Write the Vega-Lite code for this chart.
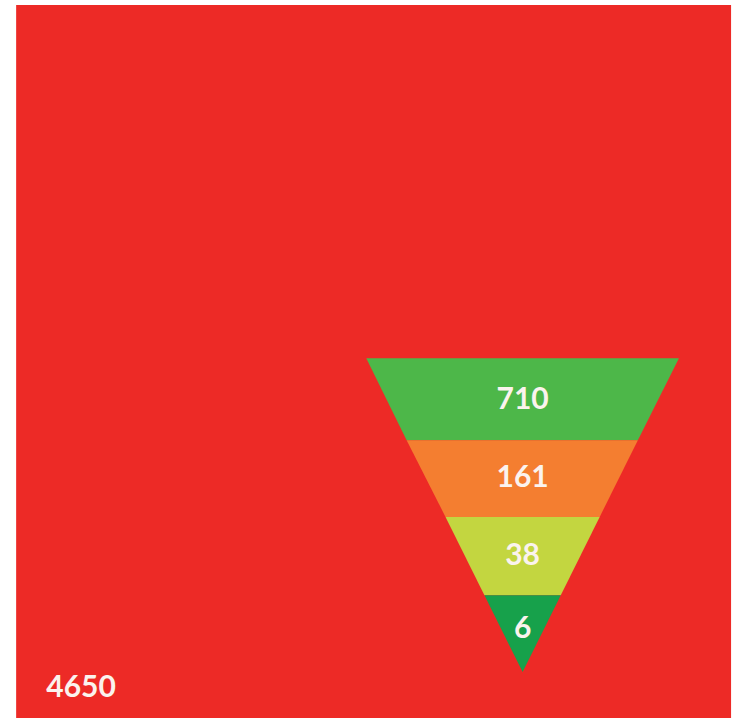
{
  "$schema": "https://vega.github.io/schema/vega-lite/v6.json",
  "width": 734,
  "height": 718,
  "padding": 0,
  "autosize": {"type": "none"},
  "background": "white",
  "config": {"view": {"stroke": null}},
  "layer": [
    {
      "data": {"values": [{"x0": 2.2, "x1": 99.6, "y0": 0.7, "y1": 100}]},
      "mark": {"type": "rect", "color": "#ed2a26"},
      "encoding": {
        "x": {"field": "x0", "type": "quantitative", "scale": {"domain": [0, 100], "nice": false, "zero": false}, "axis": null},
        "x2": {"field": "x1"},
        "y": {"field": "y0", "type": "quantitative", "scale": {"domain": [0, 100], "nice": false, "zero": false, "reverse": true}, "axis": null},
        "y2": {"field": "y1"}
      }
    },
    {
      "data": {"values": [
        {"band": "A", "y": 49.9, "xl": 49.9, "xr": 92.5},
        {"band": "A", "y": 61.3, "xl": 55.4, "xr": 86.9},
        {"band": "B", "y": 61.3, "xl": 55.4, "xr": 86.9},
        {"band": "B", "y": 72.0, "xl": 60.7, "xr": 81.7},
        {"band": "C", "y": 72.0, "xl": 60.7, "xr": 81.7},
        {"band": "C", "y": 82.9, "xl": 66.0, "xr": 76.4},
        {"band": "D", "y": 82.9, "xl": 66.0, "xr": 76.4},
        {"band": "D", "y": 93.6, "xl": 71.2, "xr": 71.2}
      ]},
      "mark": {"type": "area", "orient": "horizontal"},
      "encoding": {
        "y": {"field": "y", "type": "quantitative"},
        "x": {"field": "xl", "type": "quantitative", "stack": null},
        "x2": {"field": "xr"},
        "color": {"field": "band", "type": "nominal", "scale": {"domain": ["A", "B", "C", "D"], "range": ["#4db749", "#f47e30", "#c3d640", "#17a14b"]}, "legend": null}
      }
    },
    {
      "data": {"values": [
        {"label": "710", "x": 71.2, "y": 55.7},
        {"label": "161", "x": 71.2, "y": 66.6},
        {"label": "38", "x": 71.2, "y": 77.4},
        {"label": "6", "x": 71.2, "y": 87.6}
      ]},
      "mark": {"type": "text", "font": "Lato", "fontWeight": "bold", "fontSize": 30, "color": "#fbf3ee", "align": "center", "baseline": "middle"},
      "encoding": {
        "x": {"field": "x", "type": "quantitative"},
        "y": {"field": "y", "type": "quantitative"},
        "text": {"field": "label"}
      }
    },
    {
      "data": {"values": [{"label": "4650", "x": 6.3, "y": 95.8}]},
      "mark": {"type": "text", "font": "Lato", "fontWeight": "bold", "fontSize": 30, "color": "#fbf3ee", "align": "left", "baseline": "middle"},
      "encoding": {
        "x": {"field": "x", "type": "quantitative"},
        "y": {"field": "y", "type": "quantitative"},
        "text": {"field": "label"}
      }
    }
  ]
}
